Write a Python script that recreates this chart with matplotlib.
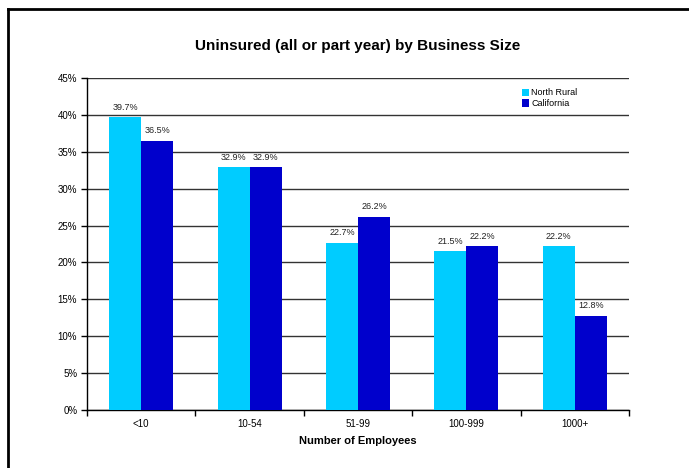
import matplotlib.pyplot as plt
import numpy as np
from matplotlib.lines import Line2D

plt.rcParams['font.family'] = ['Liberation Sans', 'DejaVu Sans']

# 数据
categories = ['<10', '10-54', '51-99', '100-999', '1000+']
north_rural = [39.7, 32.9, 22.7, 21.5, 22.2]
california = [36.5, 32.9, 26.2, 22.2, 12.8]
yticks = [0, 5, 10, 15, 20, 25, 30, 35, 40, 45]

fig = plt.figure(figsize=(6.89, 4.68), dpi=100)
ax = fig.add_axes([0.1263, 0.1239, 0.7866, 0.7094])

x = np.arange(len(categories))
width = 0.295

bars1 = ax.bar(x - width/2, north_rural, width, label='North Rural', color='#00CCFF', zorder=3)
bars2 = ax.bar(x + width/2, california, width, label='California', color='#0000CC', zorder=3)

# 数值标签
for bars in [bars1, bars2]:
    for bar in bars:
        h = bar.get_height()
        ax.annotate(f'{h:.1f}%', (bar.get_x() + bar.get_width()/2, h),
                    xytext=(0, 4), textcoords='offset points',
                    ha='center', va='bottom', fontsize=6.5, color='#222222')

ax.set_xlim(-0.5, len(categories) - 0.5)
ax.set_ylim(0, 45)
ax.set_yticks(yticks)
ax.set_yticklabels([f'{v}%' for v in yticks], fontsize=7)
ax.set_xticks(x)
ax.set_xticklabels(categories, fontsize=7)
ax.tick_params(axis='x', length=0, pad=6.4)
ax.set_xticks(np.arange(len(categories) + 1) - 0.5, minor=True)
ax.tick_params(axis='x', which='minor', length=4, width=1, color='black')
ax.tick_params(axis='y', length=4, width=1, pad=3)

ax.grid(axis='y', color='#333333', linewidth=1, zorder=0)
for side in ['top', 'right']:
    ax.spines[side].set_visible(False)
ax.spines['left'].set_linewidth(1)
ax.spines['bottom'].set_linewidth(1)

ax.set_title('Uninsured (all or part year) by Business Size', fontsize=11,
             fontweight='bold', pad=20.5)
ax.set_xlabel('Number of Employees', fontsize=8, fontweight='bold', labelpad=5)

ax.legend(loc='upper left', bbox_to_anchor=(0.788, 0.993), frameon=False,
          fontsize=6.5, handlelength=0.7, handleheight=0.9, handletextpad=0.3,
          labelspacing=0.2)

# 外框（左、上）
fx = 7.5 / 689
fy = 1 - 8.5 / 468
fig.add_artist(Line2D([fx, fx], [0, fy], transform=fig.transFigure, color='black', lw=2))
fig.add_artist(Line2D([fx, 1], [fy, fy], transform=fig.transFigure, color='black', lw=2))

plt.savefig('out.png', dpi=100, facecolor='white')
plt.close()
